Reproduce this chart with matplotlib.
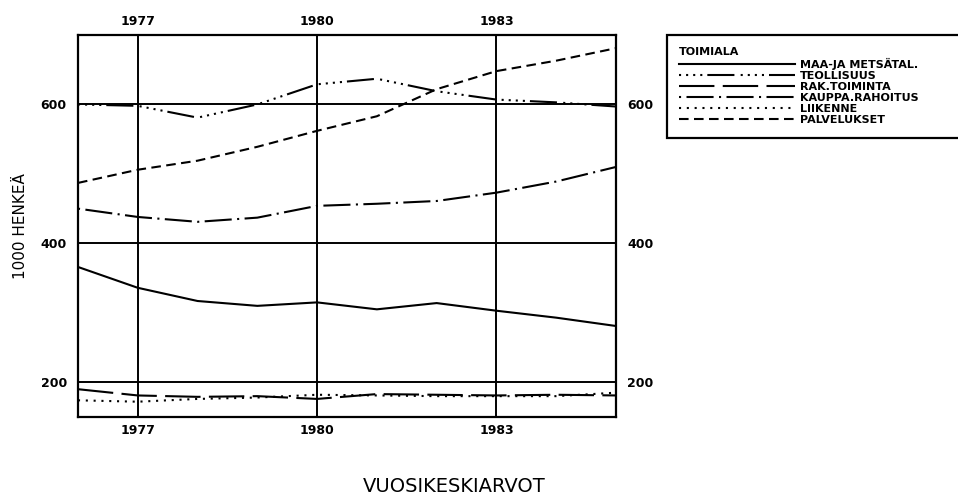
import numpy as np
import matplotlib.pyplot as plt

# vuosikeskiarvot, 1000 henkea
years = [1976, 1977, 1978, 1979, 1980, 1981, 1982, 1983, 1984, 1985]

maa_metsa = [366, 336, 317, 310, 315, 305, 314, 303, 293, 281]
teollisuus = [600, 598, 581, 600, 629, 637, 619, 607, 603, 597]
rak_toiminta = [190, 181, 179, 180, 176, 183, 182, 181, 182, 181]
kauppa = [450, 438, 431, 437, 454, 457, 461, 473, 489, 510]
liikenne = [174, 172, 176, 178, 182, 181, 180, 180, 180, 185]
palvelukset = [487, 506, 519, 539, 562, 583, 622, 648, 663, 681]

labels = ["MAA-JA METSÄTAL.", "TEOLLISUUS", "RAK.TOIMINTA",
          "KAUPPA.RAHOITUS", "LIIKENNE", "PALVELUKSET"]
styles = ["-",
          (0, (1, 2.4, 1, 2.4, 1, 2.4, 1, 2.4, 13, 3)),
          (0, (17, 4)),
          (0, (1, 2.6, 13, 2.6)),
          (0, (1, 2.75)),
          (0, (4.6, 2.6))]
series = [maa_metsa, teollisuus, rak_toiminta, kauppa, liikenne, palvelukset]

xticks = [1977, 1980, 1983]
yticks = [200, 400, 600]

fig = plt.figure(figsize=(9.58, 4.97), dpi=100)
ax = fig.add_axes([0.0814, 0.161, 0.5616, 0.7686])

handles = []
for vals, ls, lab in zip(series, styles, labels):
    h, = ax.plot(years, vals, color="black", lw=1.5, linestyle=ls, label=lab)
    handles.append(h)

ax.set_xlim(1976, 1985)
ax.set_ylim(150, 700)
ax.set_xticks(xticks)
ax.set_yticks(yticks)
ax.grid(True, color="black", lw=1.4)
for s in ax.spines.values():
    s.set_linewidth(1.6)

# labels on all four sides, no tick marks
ax.tick_params(top=True, right=True, labeltop=True, labelright=True)
ax.tick_params(length=0, labelsize=9)
ax.tick_params(axis="x", pad=5)
ax.tick_params(axis="y", pad=8)
for tk in ax.xaxis.get_major_ticks() + ax.yaxis.get_major_ticks():
    tk.label1.set_fontweight("bold")
    tk.label2.set_fontweight("bold")

ax.set_ylabel("1000 HENKEÄ", fontsize=11)
ax.yaxis.set_label_coords(-0.092, 0.5)
ax.set_xlabel("VUOSIKESKIARVOT", fontsize=14)
ax.xaxis.set_label_coords(0.7, -0.158)

leg = fig.legend(handles, labels, loc="upper left",
                 bbox_to_anchor=(0.696, 0.9296, 0.31, 0.0), mode="expand",
                 borderaxespad=0.0,
                 title="TOIMIALA", alignment="left", frameon=True,
                 fancybox=False, edgecolor="black", framealpha=1,
                 handlelength=10.4, handletextpad=0.45, labelspacing=0.09,
                 borderpad=1.1, prop={"size": 8, "weight": "bold"},
                 title_fontproperties={"size": 8, "weight": "bold"})
leg.get_frame().set_linewidth(1.6)

fig.savefig("out.png", dpi=100)
